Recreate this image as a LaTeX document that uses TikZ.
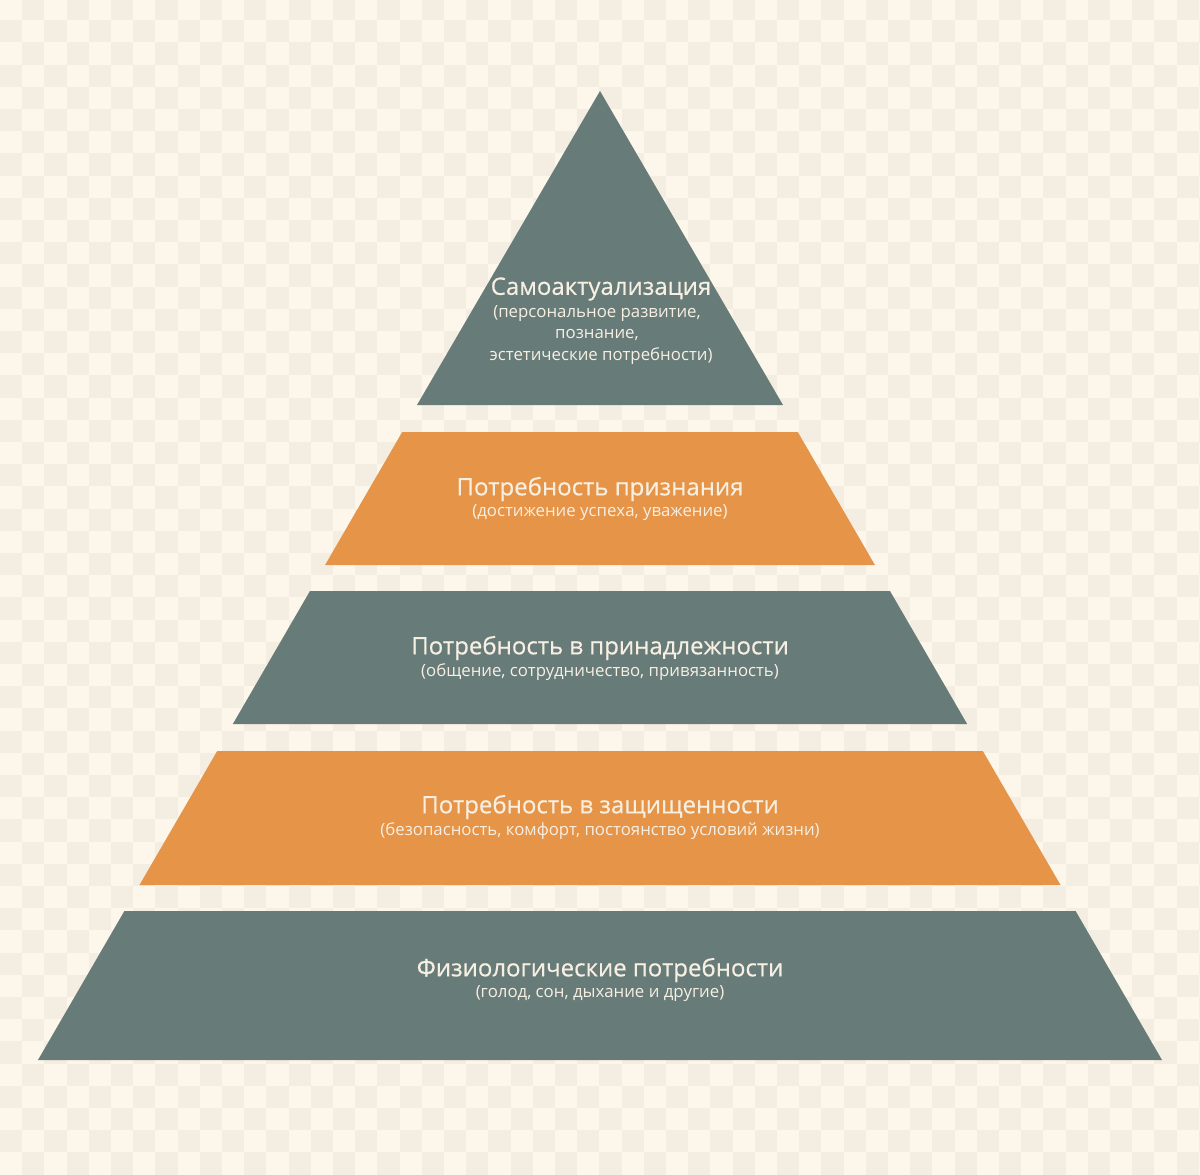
\documentclass[tikz,border=0pt]{standalone}
\usepackage{fontspec}
\setmainfont{Open Sans}
\newfontfamily\medfont[FakeBold=0.5]{Open Sans}
\definecolor{bgA}{HTML}{FDF6EA}
\definecolor{bgB}{HTML}{F4EDE1}
\definecolor{slate}{HTML}{677B79}
\definecolor{amber}{HTML}{E69447}
\definecolor{cream}{HTML}{F7EFE2}
\newcommand\pyrband[3]{\fill[#3] ({600-0.58*(#1-91)},#1) -- ({600+0.58*(#1-91)},#1) -- ({600+0.58*(#2-91)},#2) -- ({600-0.58*(#2-91)},#2) -- cycle;}
\begin{document}
\begin{tikzpicture}[x=1pt,y=-1pt,
  ttl/.style={text=cream,inner sep=0pt,font=\medfont\fontsize{24}{27}\selectfont},
  sub/.style={text=cream,inner sep=0pt,font=\fontsize{16.8}{19}\selectfont}]
\useasboundingbox (0,0) rectangle (1200,1175);
\fill[bgA] (0,0) rectangle (1200,1175);
\foreach \i in {0,...,54}{\foreach \j in {0,...,53}{%
  \pgfmathtruncatemacro\p{mod(\i+\j,2)}%
  \ifnum\p=1 \fill[bgB] ({\i*22.2},{\j*22.2-2}) rectangle ++(22.2,22.2);\fi}}
% pyramid
\fill[slate] (600,91) -- (783,405) -- (417,405) -- cycle;
\pyrband{432}{565}{amber}
\pyrband{591}{724}{slate}
\pyrband{751}{885}{amber}
\pyrband{911}{1060}{slate}
% texts
\node[ttl] (t1) at (601,289) {Самоактуализация};
\node[sub] (s1a) at (597,314) {(персональное развитие,};
\node[sub] (s1b) at (597,335) {познание,};
\node[sub] (s1c) at (601,356) {эстетические потребности)};
\node[ttl] (t2) at (600,489) {Потребность признания};
\node[sub] (s2) at (600,513) {(достижение успеха, уважение)};
\node[ttl] (t3) at (600,648) {Потребность в принадлежности};
\node[sub] (s3) at (600,672) {(общение, сотрудничество, привязанность)};
\node[ttl] (t4) at (600,807) {Потребность в защищенности};
\node[sub] (s4) at (600,831) {(безопасность, комфорт, постоянство условий жизни)};
\node[ttl] (t5) at (600,970) {Физиологические потребности};
\node[sub] (s5) at (600,994) {(голод, сон, дыхание и другие)};
\end{tikzpicture}
\end{document}
